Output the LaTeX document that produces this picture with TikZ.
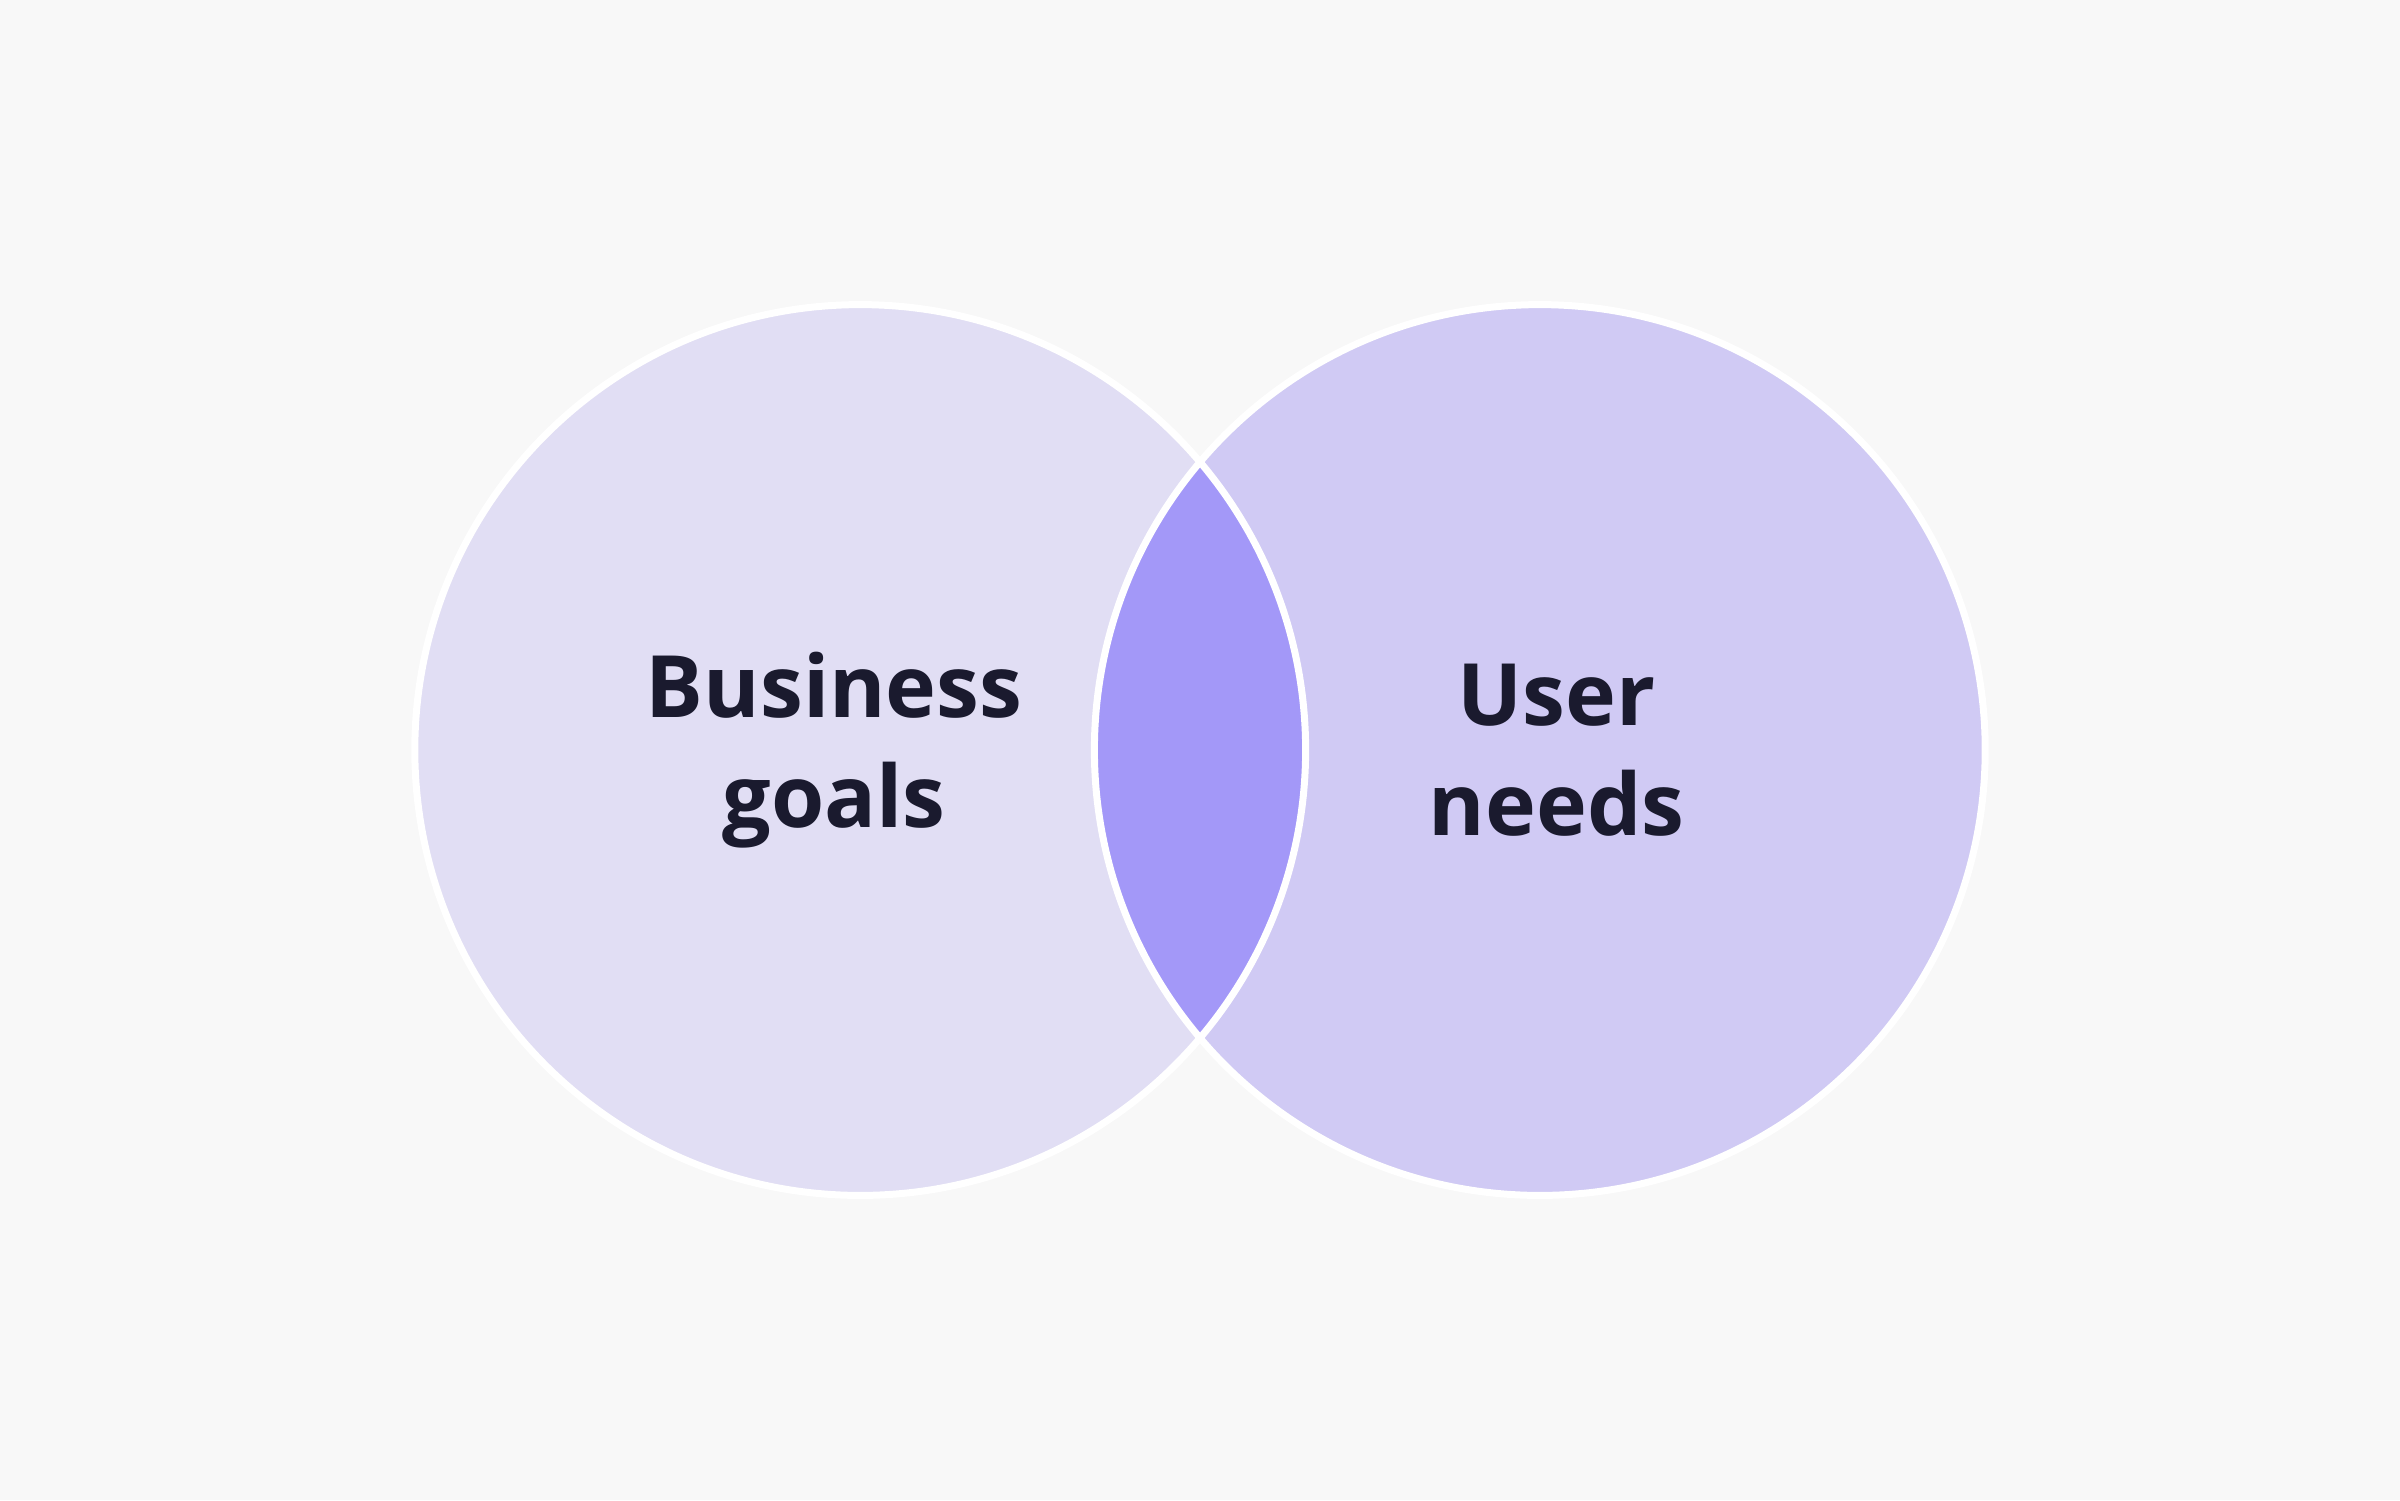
\documentclass[tikz,border=0pt]{standalone}
\usepackage{fontspec}
\setmainfont{Open Sans}
\begin{document}
\begin{tikzpicture}
\definecolor{bg}{HTML}{F8F8F8}
\definecolor{lc}{HTML}{E1DEF4}
\definecolor{rc}{HTML}{D0CAF4}
\definecolor{ic}{HTML}{A398F8}
\definecolor{tx}{HTML}{1A1A2E}
\tikzset{lbl/.style={text=tx,font=\fontsize{16}{20.5}\selectfont\bfseries,align=center}}
\fill[bg] (0,0) rectangle (15.68,9.8);
\useasboundingbox (0,0) rectangle (15.68,9.8);
\fill[lc] (5.62,4.9) circle (2.91);
\fill[rc] (10.06,4.9) circle (2.91);
\begin{scope}
\clip (5.62,4.9) circle (2.91);
\fill[ic] (10.06,4.9) circle (2.91);
\end{scope}
\draw[white,line width=1.3pt] (5.62,4.9) circle (2.91);
\draw[white,line width=1.3pt] (10.06,4.9) circle (2.91);
\node[lbl] (b) at (5.45,4.9) {Business\\goals};
\node[lbl] (u) at (10.17,4.9) {User\\needs};
\end{tikzpicture}
\end{document}
